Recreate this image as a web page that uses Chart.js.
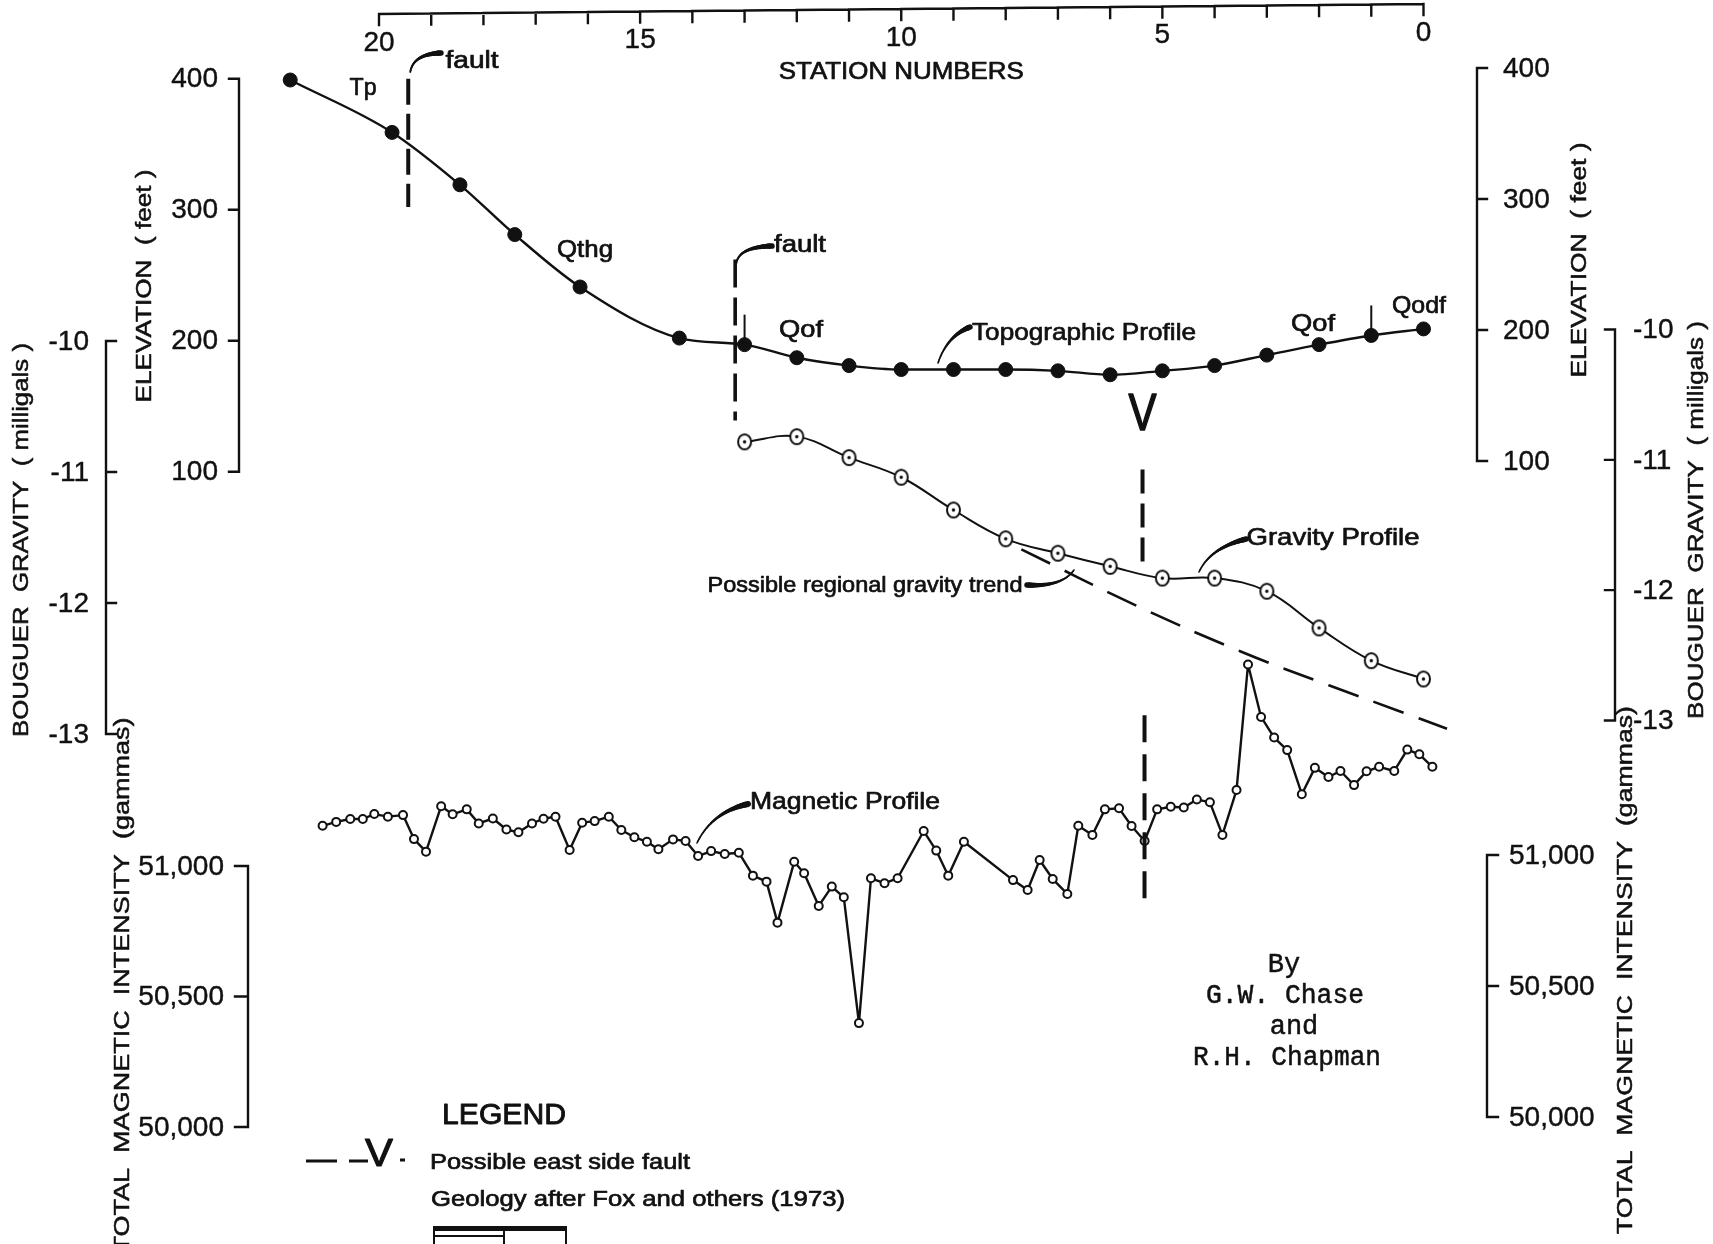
<!DOCTYPE html>
<html>
<head>
<meta charset="utf-8">
<title>Gravity, magnetic and topographic profiles</title>
<script src="https://cdn.jsdelivr.net/npm/chart.js@4.4.1/dist/chart.umd.min.js"></script>
<style>
  html, body { margin: 0; padding: 0; background: #ffffff; }
  #wrap { width: 1713px; height: 1244px; }
</style>
</head>
<body>
<div id="wrap"><canvas id="profile" width="1713" height="1244"></canvas></div>
<script>
// ---- Profile data (station numbers run 21 -> 0 from west to east) ----
const topoStations  = [21.7, 19.75, 18.45, 17.4, 16.15, 14.25, 13, 12, 11, 10, 9, 8, 7, 6, 5, 4, 3, 2, 1, 0];
const topoElevation = [399, 359, 319, 281, 241, 202, 197, 187, 181, 178, 178, 178, 177, 174, 177, 181, 189, 197, 204, 209];

const gravityStations = [13, 12, 11, 10, 9, 8, 7, 6, 5, 4, 3, 2, 1, 0];
const gravityValues   = [-10.77, -10.73, -10.89, -11.04, -11.29, -11.51, -11.62, -11.72, -11.81, -11.81, -11.91, -12.19, -12.44, -12.58];

const trendStations = [7.7, 5.5, 3.5, 1.8, 0.5, -0.45];
const trendValues   = [-11.59, -12.02, -12.37, -12.63, -12.82, -12.96];

const magStations = [
  21.08, 20.82, 20.55, 20.31, 20.09, 19.83, 19.54, 19.33, 19.10, 18.81,
  18.59, 18.32, 18.09, 17.82, 17.56, 17.33, 17.07, 16.85, 16.62, 16.35,
  16.11, 15.87, 15.60, 15.36, 15.11, 14.87, 14.65, 14.37, 14.13, 13.89,
  13.64, 13.38, 13.11, 12.84, 12.58, 12.37, 12.05, 11.86, 11.58, 11.33,
  11.10, 10.81, 10.58, 10.32, 10.07, 9.57, 9.33, 9.10, 8.80, 7.86,
  7.58, 7.35, 7.10, 6.82, 6.61, 6.34, 6.10, 5.83, 5.59, 5.34,
  5.10, 4.84, 4.59, 4.34, 4.09, 3.85, 3.58, 3.36, 3.11, 2.86,
  2.61, 2.33, 2.08, 1.82, 1.59, 1.33, 1.09, 0.85, 0.56, 0.31,
  0.08, -0.17
];
const magValues = [
  51154, 51169, 51180, 51180, 51199, 51189, 51195, 51103, 51055, 51229,
  51198, 51217, 51163, 51182, 51140, 51129, 51163, 51181, 51189, 51061,
  51166, 51172, 51189, 51138, 51110, 51093, 51064, 51102, 51096, 51038,
  51057, 51046, 51051, 50963, 50940, 50783, 51016, 50972, 50847, 50921,
  50880, 50398, 50953, 50934, 50953, 51134, 51059, 50963, 51093, 50946,
  50908, 51023, 50950, 50893, 51154, 51119, 51217, 51221, 51153, 51096,
  51217, 51227, 51224, 51255, 51244, 51119, 51291, 51772, 51571, 51492,
  51444, 51275, 51376, 51341, 51364, 51310, 51363, 51380, 51364, 51446,
  51428, 51380
];

// ---- Axis ticks ----
const stationTicks  = [0, 1, 2, 3, 4, 5, 6, 7, 8, 9, 10, 11, 12, 13, 14, 15, 16, 17, 18, 19, 20];
const stationLabels = [20, 15, 10, 5, 0];
const elevationTicks = [400, 300, 200, 100];
const gravityTicks   = [-10, -11, -12, -13];
const magneticTicks  = [51000, 50500, 50000];

// Faults and geologic contacts along the line
const faultStations   = [19.44, 13.18];
const contactStations = [13, 1];
const eastFaultStation = 5.38;

// ---- Page frame ----
const W = 1713, H = 1244;
const LETTER = "'Liberation Sans', 'DejaVu Sans', Arial, sans-serif";
const MONO = "'Liberation Mono', 'DejaVu Sans Mono', monospace";
const INK = '#111111';

// Linear range that puts value a at pixel pa and value b at pixel pb over a span of `size` pixels
function spanRange(a, pa, b, pb, size) {
  const k = (pb - pa) / (a - b);          // pixels per unit, vertical sense
  const max = a + pa / k;
  return { min: max - size / k, max: max };
}
function stationRange(a, pa, b, pb, size) {  // reversed horizontal axis
  const k = (pb - pa) / (a - b);
  const max = b + pb / k;
  return { min: max - size / k, max: max };
}

const xR      = stationRange(20, 379, 0, 1423.5, W);
const elevL   = spanRange(400, 78.7, 100, 471.7, H);
const gravL   = spanRange(-10, 341, -13, 734, H);
const magL    = spanRange(51000, 866, 50000, 1127, H);
const elevR   = spanRange(400, 68, 100, 461, H);
const gravR   = spanRange(-10, 329.5, -13, 720.5, H);
const magR    = spanRange(51000, 855, 50000, 1117, H);

function pts(xs, ys) { return xs.map((x, i) => ({ x: x, y: ys[i] })); }

// Open circle with a centre dot for gravity stations
function ringDot(r) {
  const s = Math.ceil(2 * r + 5);
  const c = document.createElement('canvas');
  c.width = s; c.height = s;
  const g = c.getContext('2d');
  g.beginPath(); g.ellipse(s / 2, s / 2, r - 0.5, r + 0.5, 0, 0, Math.PI * 2);
  g.fillStyle = '#fff'; g.fill();
  g.lineWidth = 2; g.strokeStyle = INK; g.stroke();
  g.beginPath(); g.arc(s / 2, s / 2, 1.7, 0, Math.PI * 2);
  g.fillStyle = INK; g.fill();
  return c;
}

// ---- Drawing helpers ----
function fitText(ctx, text, x, y, o) {
  ctx.save();
  ctx.font = (o.weight || 'normal') + ' ' + o.size + 'px ' + (o.family || LETTER);
  const natural = ctx.measureText(text).width;
  const sx = o.width ? o.width / natural : 1;
  ctx.translate(x, y);
  if (o.rotate) ctx.rotate(o.rotate);
  ctx.scale(sx, 1);
  ctx.fillStyle = INK;
  ctx.strokeStyle = INK;
  ctx.textAlign = o.align || 'center';
  ctx.textBaseline = 'middle';
  ctx.fillText(text, 0, 0);
  const heavy = o.heavy === undefined ? 0.7 : o.heavy;
  if (heavy > 0) { ctx.lineWidth = heavy; ctx.lineJoin = 'round'; ctx.strokeText(text, 0, 0); }
  ctx.restore();
}

function quadPt(p0, c, p1, t) {
  const u = 1 - t;
  return { x: u * u * p0.x + 2 * u * t * c.x + t * t * p1.x,
           y: u * u * p0.y + 2 * u * t * c.y + t * t * p1.y };
}
// Pen leader that thickens toward the label end
function leader(ctx, p0, c, p1, w0, w1) {
  ctx.save();
  ctx.strokeStyle = INK; ctx.lineCap = 'round';
  const N = 30;
  let prev = p0;
  for (let i = 1; i <= N; i++) {
    const t = i / N;
    const p = quadPt(p0, c, p1, t);
    ctx.lineWidth = w0 + (w1 - w0) * Math.pow(t, 2.2);
    ctx.beginPath(); ctx.moveTo(prev.x, prev.y); ctx.lineTo(p.x, p.y); ctx.stroke();
    prev = p;
  }
  ctx.restore();
}

function vLine(ctx, x, y0, y1, width, dash) {
  ctx.save();
  ctx.strokeStyle = INK; ctx.lineWidth = width; ctx.lineCap = 'butt';
  ctx.setLineDash(dash || []);
  ctx.beginPath(); ctx.moveTo(x, y0); ctx.lineTo(x, y1); ctx.stroke();
  ctx.restore();
}

// Bracket-style vertical axis: spine, ticks, labels
function vAxis(ctx, scale, x, values, dir, len, labelX, align, fmt) {
  const ys = values.map(v => scale.getPixelForValue(v));
  ctx.save();
  ctx.strokeStyle = INK; ctx.lineWidth = 2.4; ctx.lineCap = 'square';
  ctx.beginPath();
  ctx.moveTo(x, Math.min.apply(null, ys)); ctx.lineTo(x, Math.max.apply(null, ys));
  ys.forEach(y => { ctx.moveTo(x, y); ctx.lineTo(x + dir * len, y); });
  ctx.stroke();
  ctx.restore();
  values.forEach((v, i) => fitText(ctx, fmt(v), labelX, ys[i] + 1, { size: 28, align: align, heavy: 0.4 }));
}

const fmtInt = v => String(v);
const fmtMag = v => v.toLocaleString('en-US');

const profileDecor = {
  id: 'profileDecor',
  beforeDraw(chart) {
    const ctx = chart.ctx;
    ctx.save(); ctx.fillStyle = '#fff'; ctx.fillRect(0, 0, chart.width, chart.height); ctx.restore();
  },
  afterDraw(chart) {
    const ctx = chart.ctx;
    const s = chart.scales;
    const X = v => s.x.getPixelForValue(v);

    // Station-number axis across the top
    const xa = X(20), xb = X(0);
    const topY = px => 14 + (4 - 14) * (px - xa) / (xb - xa);
    ctx.save();
    ctx.strokeStyle = INK; ctx.lineWidth = 2.4; ctx.lineCap = 'square';
    ctx.beginPath(); ctx.moveTo(xa, topY(xa)); ctx.lineTo(xb, topY(xb));
    stationTicks.forEach(t => { const px = X(t); ctx.moveTo(px, topY(px)); ctx.lineTo(px, topY(px) + 11); });
    ctx.stroke();
    ctx.restore();
    stationLabels.forEach(t => { const px = X(t); fitText(ctx, String(t), px, topY(px) + 29, { size: 28, heavy: 0.4 }); });
    fitText(ctx, 'STATION NUMBERS', (xa + xb) / 2, 72, { size: 24, width: 245 });

    // Left axes
    vAxis(ctx, s.yElev, 239, elevationTicks, -1, 10, 218, 'right', fmtInt);
    vAxis(ctx, s.yGrav, 106, gravityTicks, 1, 10, 89, 'right', fmtInt);
    vAxis(ctx, s.yMag, 248, magneticTicks, -1, 13, 224, 'right', fmtMag);
    // Right axes
    vAxis(ctx, s.yElevR, 1477, elevationTicks, 1, 10, 1503, 'left', fmtInt);
    vAxis(ctx, s.yGravR, 1615, gravityTicks, -1, 10, 1633, 'left', fmtInt);
    vAxis(ctx, s.yMagR, 1487, magneticTicks, 1, 11, 1509, 'left', fmtMag);

    // Axis titles
    const up = -Math.PI / 2;
    fitText(ctx, 'ELEVATION  ( feet )', 145, 286, { size: 22, width: 233, rotate: up, heavy: 0.5 });
    fitText(ctx, 'ELEVATION  ( feet )', 1580, 260, { size: 22, width: 235, rotate: up, heavy: 0.5 });
    fitText(ctx, 'BOUGUER  GRAVITY  ( milligals )', 22, 540, { size: 22, width: 394, rotate: up, heavy: 0.5 });
    fitText(ctx, 'BOUGUER  GRAVITY  ( milligals )', 1697, 520, { size: 22, width: 398, rotate: up, heavy: 0.5 });
    fitText(ctx, 'TOTAL  MAGNETIC  INTENSITY  (gammas)', 123, 985, { size: 22, width: 535, rotate: up, heavy: 0.5 });
    fitText(ctx, 'TOTAL  MAGNETIC  INTENSITY  (gammas)', 1626, 970, { size: 22, width: 528, rotate: up, heavy: 0.5 });

    // Faults
    const f1 = X(faultStations[0]);
    vLine(ctx, f1, s.yElev.getPixelForValue(400), s.yElev.getPixelForValue(302), 4, [26, 9]);
    leader(ctx, { x: f1 + 2, y: 72 }, { x: f1 + 5, y: 54 }, { x: 441, y: 53 }, 1.8, 5.5);
    fitText(ctx, 'fault', 472, 62, { size: 23, width: 53 });

    const f2 = X(faultStations[1]);
    vLine(ctx, f2, s.yElev.getPixelForValue(262), s.yElev.getPixelForValue(139), 3.6, [28, 10]);
    leader(ctx, { x: f2 + 1, y: 264 }, { x: f2 + 3, y: 247 }, { x: 772, y: 246 }, 1.8, 5.5);
    fitText(ctx, 'fault', 800, 246, { size: 23, width: 52 });

    // Geologic contacts on the topographic profile
    contactStations.forEach(st => {
      const px = X(st);
      const base = s.yElev.getPixelForValue(topoElevation[topoStations.indexOf(st)]);
      vLine(ctx, px, base, base - 30, 2);
    });

    // Possible east side fault
    const fe = X(eastFaultStation);
    fitText(ctx, 'V', fe, 416, { size: 52, width: 28, heavy: 1.6 });
    vLine(ctx, fe, s.yGrav.getPixelForValue(-10.98), s.yGrav.getPixelForValue(-11.69), 4, [24, 10]);
    vLine(ctx, fe + 2, s.yMag.getPixelForValue(51578), s.yMag.getPixelForValue(50830), 4, [27, 12]);

    // Unit and profile labels
    fitText(ctx, 'Tp', 363, 88, { size: 24, width: 27 });
    fitText(ctx, 'Qthg', 585, 250, { size: 24, width: 56 });
    fitText(ctx, 'Qof', 801, 330, { size: 24, width: 44 });
    fitText(ctx, 'Qof', 1313, 324, { size: 24, width: 44 });
    fitText(ctx, 'Qodf', 1419, 306, { size: 24, width: 54 });

    leader(ctx, { x: 938, y: 363 }, { x: 947, y: 336 }, { x: 970, y: 327 }, 1.6, 5.5);
    fitText(ctx, 'Topographic Profile', 1084, 333, { size: 24, width: 224 });

    leader(ctx, { x: 1199, y: 572 }, { x: 1210, y: 548 }, { x: 1246, y: 539 }, 1.6, 5.5);
    fitText(ctx, 'Gravity Profile', 1333, 538, { size: 24, width: 173 });

    leader(ctx, { x: 1074, y: 570 }, { x: 1062, y: 587 }, { x: 1027, y: 585 }, 1.6, 5.5);
    fitText(ctx, 'Possible regional gravity trend', 865, 586, { size: 22, width: 315 });

    leader(ctx, { x: 697, y: 843 }, { x: 712, y: 812 }, { x: 748, y: 804 }, 1.6, 6);
    fitText(ctx, 'Magnetic Profile', 845, 802, { size: 24, width: 190 });

    // Authors
    fitText(ctx, 'By', 1284, 965, { size: 27, family: MONO, heavy: 0.5 });
    fitText(ctx, 'G.W. Chase', 1285, 996, { size: 27, family: MONO, width: 158, heavy: 0.5 });
    fitText(ctx, 'and', 1294, 1027, { size: 27, family: MONO, heavy: 0.5 });
    fitText(ctx, 'R.H. Chapman', 1287, 1058, { size: 27, family: MONO, width: 188, heavy: 0.5 });

    // Legend
    fitText(ctx, 'LEGEND', 504, 1116, { size: 30, width: 124, heavy: 0.9 });
    ctx.save();
    ctx.strokeStyle = INK; ctx.lineWidth = 3;
    ctx.beginPath();
    ctx.moveTo(306, 1161); ctx.lineTo(337, 1161);
    ctx.moveTo(349, 1161); ctx.lineTo(368, 1161);
    ctx.moveTo(400, 1160); ctx.lineTo(405, 1160);
    ctx.stroke();
    ctx.restore();
    fitText(ctx, 'V', 379, 1156, { size: 38, width: 28, heavy: 1 });
    fitText(ctx, 'Possible east side fault', 560, 1163, { size: 22, width: 260 });
    fitText(ctx, 'Geology after Fox and others (1973)', 638, 1200, { size: 22, width: 414 });

    // Bar scale
    ctx.save();
    ctx.fillStyle = INK;
    ctx.fillRect(433, 1226, 134, 5);
    ctx.strokeStyle = INK; ctx.lineWidth = 2;
    ctx.beginPath();
    ctx.moveTo(434, 1226); ctx.lineTo(434, 1244);
    ctx.moveTo(504, 1226); ctx.lineTo(504, 1244);
    ctx.moveTo(566, 1226); ctx.lineTo(566, 1244);
    ctx.moveTo(434, 1236); ctx.lineTo(504, 1236);
    ctx.stroke();
    ctx.restore();
  }
};

new Chart(document.getElementById('profile'), {
  type: 'line',
  data: {
    datasets: [
      {
        label: 'Topographic Profile',
        data: pts(topoStations, topoElevation),
        yAxisID: 'yElev',
        borderColor: INK, borderWidth: 2.4, cubicInterpolationMode: 'monotone',
        pointRadius: 7, pointBackgroundColor: INK, pointBorderColor: INK, pointBorderWidth: 1
      },
      {
        label: 'Gravity Profile',
        data: pts(gravityStations, gravityValues),
        yAxisID: 'yGrav',
        borderColor: INK, borderWidth: 2, tension: 0.4,
        pointStyle: ringDot(7), pointRadius: 8
      },
      {
        label: 'Possible regional gravity trend',
        data: pts(trendStations, trendValues),
        yAxisID: 'yGrav',
        borderColor: INK, borderWidth: 2.6, borderDash: [32, 16], tension: 0.4,
        pointRadius: 0
      },
      {
        label: 'Magnetic Profile',
        data: pts(magStations, magValues),
        yAxisID: 'yMag',
        borderColor: INK, borderWidth: 2.4, tension: 0, borderJoinStyle: 'round',
        pointRadius: 4, pointBackgroundColor: '#fff', pointBorderColor: INK, pointBorderWidth: 2
      }
    ]
  },
  options: {
    responsive: false,
    animation: false,
    devicePixelRatio: 1,
    layout: { padding: 0, autoPadding: false },
    plugins: { legend: { display: false }, tooltip: { enabled: false }, title: { display: false } },
    scales: {
      x:      { type: 'linear', reverse: true, min: xR.min, max: xR.max, display: false },
      yElev:  { type: 'linear', position: 'left',  min: elevL.min, max: elevL.max, display: false },
      yGrav:  { type: 'linear', position: 'left',  min: gravL.min, max: gravL.max, display: false },
      yMag:   { type: 'linear', position: 'left',  min: magL.min,  max: magL.max,  display: false },
      yElevR: { type: 'linear', position: 'right', min: elevR.min, max: elevR.max, display: false },
      yGravR: { type: 'linear', position: 'right', min: gravR.min, max: gravR.max, display: false },
      yMagR:  { type: 'linear', position: 'right', min: magR.min,  max: magR.max,  display: false }
    }
  },
  plugins: [profileDecor]
});
</script>
</body>
</html>
